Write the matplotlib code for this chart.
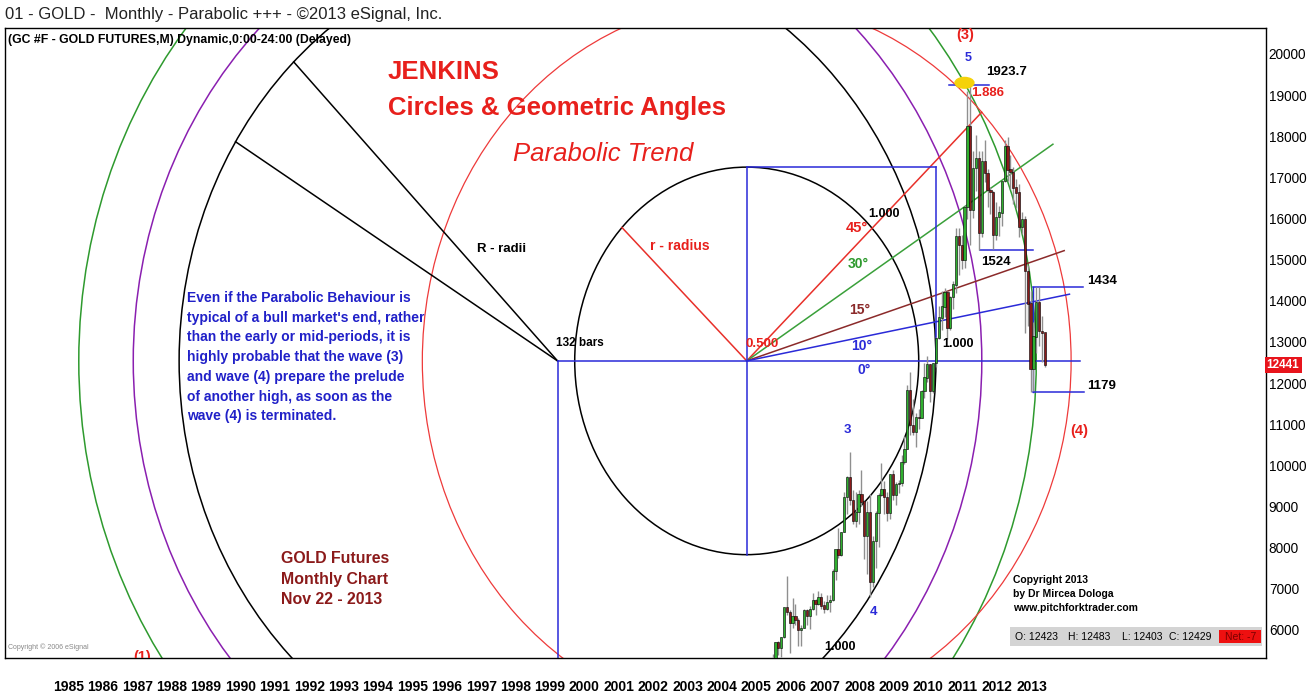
import matplotlib.pyplot as plt
from matplotlib.patches import Ellipse, Rectangle
import numpy as np

plt.rcParams['font.family'] = ['Liberation Sans', 'DejaVu Sans']

# monthly gold futures bars, Nov 2005 .. Nov 2013 (dollars)
first_month = 2005 + 10 / 12
opens = [470, 495,
         517, 569, 556, 583, 654, 644, 616, 634, 624, 599, 605, 648,
         635, 650, 672, 663, 680, 659, 650, 667, 672, 743, 795, 783,
         838, 923, 972, 916, 866, 887, 930, 912, 828, 885, 717, 816,
         884, 928, 942, 923, 884, 978, 927, 955, 956, 1008, 1040, 1182,
         1097, 1081, 1118, 1115, 1180, 1213, 1245, 1181, 1248, 1309, 1359, 1386,
         1421, 1333, 1409, 1439, 1556, 1536, 1500, 1628, 1825, 1620, 1722, 1746,
         1566, 1740, 1711, 1669, 1664, 1561, 1604, 1614, 1691, 1775, 1719, 1713,
         1675, 1663, 1579, 1597, 1472, 1393, 1234, 1313, 1396, 1327, 1323]
highs = [497, 541,
         571, 574, 584, 654, 732, 648, 677, 663, 628, 612, 650, 650,
         657, 690, 675, 695, 690, 671, 686, 684, 748, 795, 848, 838,
         935, 975, 1033, 941, 936, 940, 988, 915, 913, 931, 829, 889,
         933, 1007, 962, 935, 980, 990, 960, 965, 1025, 1072, 1195, 1227,
         1162, 1127, 1137, 1183, 1249, 1266, 1246, 1248, 1313, 1388, 1424, 1432,
         1424, 1412, 1448, 1576, 1577, 1560, 1632, 1911, 1924, 1764, 1804, 1764,
         1764, 1792, 1720, 1677, 1666, 1640, 1630, 1692, 1790, 1798, 1755, 1726,
         1697, 1684, 1617, 1606, 1488, 1424, 1348, 1434, 1433, 1362, 1323]
lows = [456, 490,
        515, 538, 535, 580, 637, 543, 605, 611, 561, 560, 605, 612,
        603, 648, 637, 661, 651, 640, 649, 644, 670, 722, 776, 780,
        837, 883, 904, 858, 851, 857, 902, 773, 736, 681, 705, 751,
        802, 925, 881, 866, 870, 917, 904, 932, 950, 1003, 1040, 1075,
        1075, 1045, 1088, 1114, 1163, 1202, 1155, 1176, 1240, 1308, 1330, 1360,
        1308, 1330, 1381, 1418, 1462, 1478, 1480, 1600, 1535, 1602, 1666, 1523,
        1555, 1688, 1627, 1611, 1527, 1547, 1557, 1583, 1688, 1692, 1672, 1635,
        1625, 1555, 1562, 1321, 1338, 1179, 1180, 1272, 1290, 1251, 1240]
closes = [495, 517,
          569, 556, 583, 654, 644, 616, 634, 624, 599, 605, 648, 635,
          650, 672, 663, 680, 659, 650, 667, 672, 743, 795, 783, 838,
          923, 972, 916, 866, 887, 930, 912, 828, 885, 717, 816, 884,
          928, 942, 923, 884, 978, 927, 955, 956, 1008, 1040, 1182, 1097,
          1081, 1118, 1115, 1180, 1213, 1245, 1181, 1248, 1309, 1359, 1386, 1421,
          1333, 1409, 1439, 1556, 1536, 1500, 1628, 1825, 1620, 1722, 1746, 1566,
          1740, 1711, 1669, 1664, 1561, 1604, 1614, 1691, 1775, 1719, 1713, 1675,
          1663, 1579, 1597, 1472, 1393, 1234, 1313, 1396, 1327, 1323, 1244]

years = list(range(1985, 2014))
price_ticks = list(range(6000, 20001, 1000))
last_price = 12441
ohlc_box = ['O: 12423', 'H: 12483', 'L: 12403', 'C: 12429']

# Jenkins geometry (time in years, price in chart units = $ x 10)
anchor_t, anchor_p = 1999 + 8 / 12, 12540      # the "132 bars" point
small_t = anchor_t + 66 / 12                    # centre of the small circle
ppb_big = 76.8                                  # price units per bar, outer circles
ppb = 78.5                                      # price units per bar, small circle
big_radii = [132, 148, 167]
big_colors = ['black', '#8a1fb0', '#2e9a2e']
small_r = 60
red_ratio = 1.886
angle_deg = [43.5, 32.4, 17.3, 10.5]
angle_len = [113, 126.5, 116, 114.5]
angle_colors = ['#e8302a', '#3aa03a', '#8b2a2a', '#2a2ad8']
R_radii_deg = [134.2, 148.3]
r_radius_deg = 136.5

SC = 10  # chart units per dollar
o = np.array(opens) * SC
h = np.array(highs) * SC
l = np.array(lows) * SC
c = np.array(closes) * SC
t = first_month + np.arange(len(o)) / 12

fig = plt.figure(figsize=(13.13, 6.93), dpi=100)
ax = fig.add_axes([5 / 1313, 35 / 693, 1261 / 1313, 630 / 693])
ax.set_xlim(1983.605, 2020.262)
ax.set_ylim(5318, 20632)

blue = '#2a2ad8'
red = '#e8201c'


def ellipse(cx, cy, r, color, k, lw=1.1):
    ax.add_patch(Ellipse((cx, cy), 2 * r / 12, 2 * r * k, fill=False,
                         edgecolor=color, lw=lw, zorder=2))


def ray(cx, cy, deg, length, color, k, lw=1.1):
    a = np.radians(deg)
    ax.plot([cx, cx + length * np.cos(a) / 12],
            [cy, cy + length * np.sin(a) * k], color=color, lw=lw, zorder=2)


for r, col in zip(big_radii, big_colors):
    ellipse(anchor_t, anchor_p, r, col, ppb_big)
ellipse(small_t, anchor_p, small_r, 'black', ppb)
ellipse(small_t, anchor_p, small_r * red_ratio, '#ee3a3a', 77.5, lw=0.9)

for d in R_radii_deg:
    ray(anchor_t, anchor_p, d, big_radii[0], 'black', ppb_big)
ray(small_t, anchor_p, r_radius_deg, small_r, '#e8302a', ppb)
for d, L, col in zip(angle_deg, angle_len, angle_colors):
    ray(small_t, anchor_p, d, L, col, 77.7)

# blue construction lines
top_p = anchor_p + small_r * ppb
end_t = anchor_t + big_radii[0] / 12
ax.plot([small_t, end_t], [top_p, top_p], color=blue, lw=1.1, zorder=2)
ax.plot([end_t, end_t], [top_p, anchor_p], color=blue, lw=1.1, zorder=2)
ax.plot([small_t, small_t], [top_p, anchor_p - small_r * ppb], color=blue, lw=1.1, zorder=2)
ax.plot([anchor_t, anchor_t], [anchor_p, 5318], color=blue, lw=1.1, zorder=2)
ax.plot([anchor_t, 2014.85], [anchor_p, anchor_p], color=blue, lw=1.1, zorder=2)

# level markers
ipk = int(np.argmax(h))
ax.plot([t[ipk] - 0.62, t[ipk] + 0.53], [h[ipk], h[ipk]], color=blue, lw=1.1, zorder=5)
ax.add_patch(Ellipse((t[ipk] - 0.17, h[ipk] + 60), 0.55, 260, color='#f5d20a', zorder=6))
ax.plot([2011.95, 2013.5], [15240, 15240], color=blue, lw=1.1, zorder=2)
ax.plot([2013.49, 2014.95], [14340, 14340], color=blue, lw=1.1, zorder=2)
ax.plot([2013.49, 2014.98], [11790, 11790], color=blue, lw=1.1, zorder=2)
ax.plot([2013.49, 2013.49], [11790, 14340], color=blue, lw=1.0, zorder=2)

# candles
ax.vlines(t, l, h, color='#8f8f8f', lw=1.0, zorder=3)
up = c >= o
ax.bar(t, np.abs(c - o) + 8, bottom=np.minimum(o, c), width=0.8 / 12,
       color=np.where(up, '#2fb02f', '#8c1a1a'), edgecolor='black', lw=0.4, zorder=4)

# labels
labels = [
    ('R - radii', 1998.05, 15260, 'black', 9.5),
    ('r - radius', 2003.22, 15321, red, 10),
    ('0.500', 2005.61, 12939, red, 9.5),
    ('1.000', 2009.17, 16113, 'black', 9),
    ('1.000', 2011.30, 12939, 'black', 9),
    ('1.000', 2007.88, 5586, 'black', 9),
    ('45°', 2008.37, 15771, red, 10.5),
    ('30°', 2008.40, 14896, '#2e9a2e', 10),
    ('15°', 2008.45, 13782, '#8b2a2a', 10),
    ('10°', 2008.50, 12890, blue, 10),
    ('0°', 2008.59, 12319, blue, 10),
    ('1.886', 2012.18, 19052, red, 9.5),
    ('1923.7', 2012.73, 19562, 'black', 9.5),
    ('5', 2011.60, 19903, blue, 9),
    ('(3)', 2011.51, 20462, red, 10.5),
    ('3', 2008.08, 10860, blue, 9.5),
    ('4', 2008.84, 6437, blue, 9.5),
    ('(4)', 2014.83, 10836, red, 10.5),
    ('(1)', 1987.6, 5345, red, 10.5),
    ('1524', 2012.40, 14951, 'black', 9.5),
    ('1434', 2015.49, 14490, 'black', 9.5),
    ('1179', 2015.49, 11930, 'black', 9.5),
]
for txt, x, y, col, fs in labels:
    ax.text(x, y, txt, color=col, fontsize=fs, fontweight='bold',
            ha='center', va='center', zorder=7, clip_on=True)
ax.text(1999.62, 12975, '132 bars', fontsize=8.5, fontweight='bold', va='center', zorder=7)

ax.text(1994.74, 19562, 'JENKINS', color=red, fontsize=18.5, fontweight='bold', va='center')
ax.text(1994.74, 18687, 'Circles & Geometric Angles', color=red, fontsize=18.5,
        fontweight='bold', va='center')
ax.text(1998.37, 17569, 'Parabolic Trend', color=red, fontsize=18.5, style='italic', va='center')

note = ("Even if the Parabolic Behaviour is\n"
        "typical of a bull market's end, rather\n"
        "than the early or mid-periods, it is\n"
        "highly probable that the wave (3)\n"
        "and wave (4) prepare the prelude\n"
        "of another high, as soon as the\n"
        "wave (4) is terminated.")
ax.text(1988.9, 14239, note, color='#2020c8', fontsize=10, fontweight='bold',
        va='top', linespacing=1.52)
ax.text(1991.63, 7919, 'GOLD Futures\nMonthly Chart\nNov 22 - 2013', color='#8b1a1a',
        fontsize=11.4, fontweight='bold', va='top', linespacing=1.47)
ax.text(2012.91, 7336, 'Copyright 2013\nby Dr Mircea Dologa\nwww.pitchforktrader.com',
        fontsize=7.5, fontweight='bold', va='top', linespacing=1.5)
ax.text(0.0024, 0.011, 'Copyright © 2006 eSignal', transform=ax.transAxes,
        fontsize=5, color='#888888', va='bottom')

# OHLC status box
ax.add_patch(Rectangle((0.797, 0.019), 0.2, 0.03, transform=ax.transAxes,
                       facecolor='#d4d4d4', edgecolor='none', zorder=6))
for s, xp in zip(ohlc_box, [0.801, 0.843, 0.886, 0.923]):
    ax.text(xp, 0.034, s, transform=ax.transAxes, fontsize=7.5, va='center', zorder=7)
ax.add_patch(Rectangle((0.963, 0.024), 0.033, 0.02, transform=ax.transAxes,
                       facecolor='#ee1010', edgecolor='none', zorder=7))
ax.text(0.9795, 0.034, 'Net: -7', transform=ax.transAxes, fontsize=7.5, color='#7a0000',
        va='center', ha='center', zorder=8)

# axes styling
ax.yaxis.tick_right()
ax.set_yticks(price_ticks)
ax.set_yticklabels([str(p) for p in price_ticks], fontsize=9.8)
ax.tick_params(axis='y', length=0, pad=2)
ax.set_xticks(years)
ax.set_xticklabels([str(y) for y in years], fontsize=10, fontweight='bold')
for lbl in ax.get_xticklabels():
    lbl.set_ha('left')
ax.tick_params(axis='x', length=0, pad=16)
for sp in ax.spines.values():
    sp.set_linewidth(1.0)

ax.text(1.0005, last_price, str(last_price), transform=ax.get_yaxis_transform(),
        fontsize=8.5, fontweight='bold', color='white', va='center', ha='left',
        bbox=dict(facecolor='#e8141c', edgecolor='none', pad=1.5))

fig.text(5 / 1313, 1 - 14 / 693, '01 - GOLD -  Monthly - Parabolic +++ - ©2013 eSignal, Inc.',
         fontsize=12, color='#222222', va='center')
ax.text(0.0025, 0.99, '(GC #F - GOLD FUTURES,M) Dynamic,0:00-24:00 (Delayed)',
        transform=ax.transAxes, fontsize=8.8, fontweight='bold', va='top')

fig.savefig('out.png', dpi=100)
